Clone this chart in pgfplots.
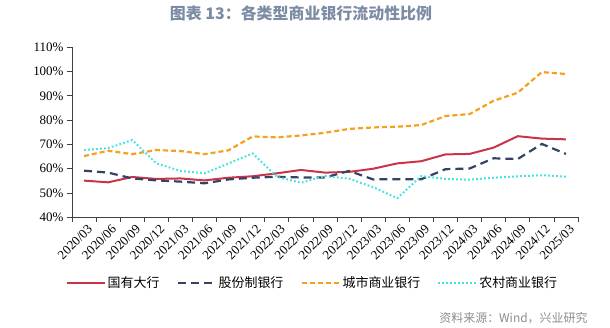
\documentclass[border=0pt]{standalone}
\usepackage{fontspec}
\setmainfont{Liberation Serif}
\newfontfamily\cjk{Noto Sans CJK SC}
\usepackage{pgfplots}
\usepackage{pgfplotstable}
\pgfplotsset{compat=1.18}
\definecolor{cred}{RGB}{200,52,72}
\definecolor{cnavy}{RGB}{52,66,100}
\definecolor{corange}{RGB}{245,160,30}
\definecolor{ccyan}{RGB}{70,225,225}
\definecolor{titlecol}{RGB}{125,140,165}
\definecolor{srccol}{RGB}{140,140,140}
\pgfplotstableread{
idx red navy orange cyan
0 55.1 59.2 65.2 67.7
1 54.4 58.4 67.4 68.5
2 56.6 56.0 66.0 71.8
3 55.8 55.2 67.7 62.2
4 56.0 54.7 67.3 59.1
5 55.2 54.0 66.0 58.1
6 56.3 55.6 67.6 62.2
7 56.9 56.3 73.3 66.3
8 58.1 56.7 72.9 56.7
9 59.5 56.4 73.7 54.2
10 58.4 56.4 74.8 57.0
11 58.7 59.1 76.4 55.9
12 60.0 55.6 77.0 52.4
13 62.2 55.7 77.3 47.9
14 63.1 55.7 78.0 57.0
15 65.9 59.8 81.7 55.8
16 66.1 60.1 82.5 55.5
17 68.7 64.3 88.0 56.3
18 73.4 64.0 91.3 56.9
19 72.4 70.2 99.8 57.3
20 72.1 66.1 99.0 56.7
}\datatable
\begin{document}
\begin{tikzpicture}
\useasboundingbox (0,0) rectangle (610bp,328bp);
\begin{axis}[
  at={(72bp,110.7bp)}, anchor=south west,
  scale only axis, width=506bp, height=170bp,
  xmin=-0.5, xmax=20.5, ymin=40, ymax=110,
  axis x line*=bottom, axis y line*=left,
  xtick={0,...,20},
  xticklabels={2020/03,2020/06,2020/09,2020/12,2021/03,2021/06,2021/09,2021/12,2022/03,2022/06,2022/09,2022/12,2023/03,2023/06,2023/09,2023/12,2024/03,2024/06,2024/09,2024/12,2025/03},
  major x tick style={draw=none},
  minor xtick={-0.5,0.5,...,20.5},
  ytick={40,50,...,110},
  yticklabel={\pgfmathprintnumber{\tick}\%},
  tick align=outside,
  major tick length=5bp, minor tick length=5bp,
  tick style={black!75, line width=0.8bp},
  axis line style={black!75, line width=0.8bp},
  /pgf/number format/assume math mode=true,
  yticklabel style={font=\fontsize{13}{13}\selectfont},
  xticklabel style={rotate=45, anchor=north east, inner sep=1bp, yshift=-2bp, xshift=2bp, font=\fontsize{13}{13}\selectfont},
  legend columns=4,
  legend cell align=left,
  legend style={at={(0.475,-0.386)}, anchor=center, draw=none, fill=none,
    font=\cjk\fontsize{13}{13}\selectfont,
    /tikz/every even column/.append style={column sep=15bp}},
  legend image code/.code={\draw[#1] (0bp,0bp) -- (38bp,0bp);},
]
\addplot[cred, line width=2bp] table[x=idx, y=red] {\datatable};
\addlegendentry{国有大行}
\addplot[cnavy, line width=2.2bp, dash pattern=on 8bp off 5bp] table[x=idx, y=navy] {\datatable};
\addlegendentry{股份制银行}
\addplot[corange, line width=2.2bp, dash pattern=on 5bp off 3bp] table[x=idx, y=orange] {\datatable};
\addlegendentry{城市商业银行}
\addplot[ccyan, line width=2bp, dash pattern=on 1.8bp off 2.2bp] table[x=idx, y=cyan] {\datatable};
\addlegendentry{农村商业银行}
\end{axis}
\node[font=\cjk\bfseries\fontsize{16}{16}\selectfont, text=titlecol] at (301bp,315bp) {图表 13：各类型商业银行流动性比例};
\node[anchor=east, font=\cjk\fontsize{12}{12}\selectfont, text=srccol] at (591bp,10bp) {资料来源：Wind，兴业研究};
\end{tikzpicture}
\end{document}
